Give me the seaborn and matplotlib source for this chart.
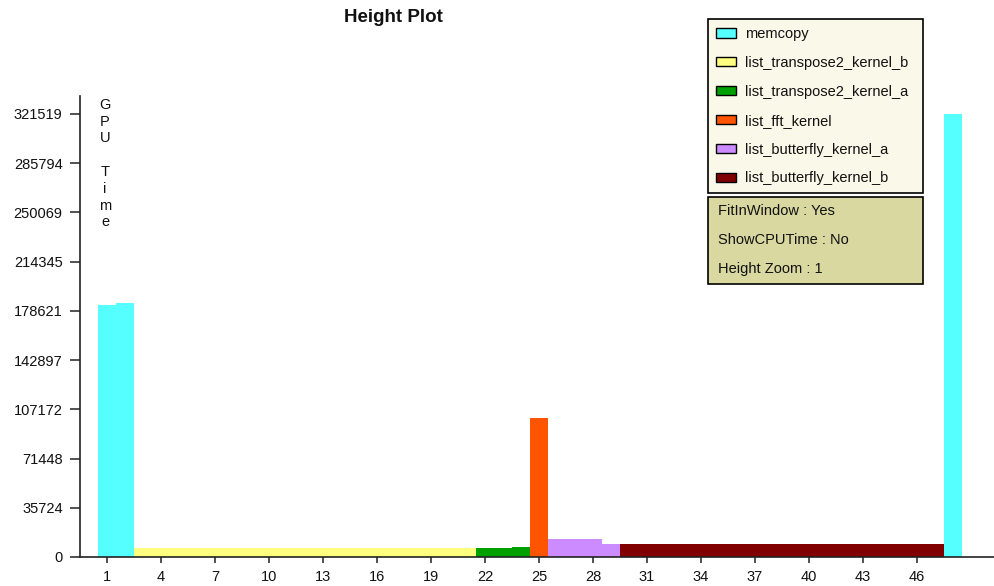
import numpy as np
import pandas as pd
import matplotlib
matplotlib.use("Agg")
import matplotlib.pyplot as plt
from matplotlib.patches import Patch, Rectangle
import seaborn as sns

# Kernel launches in call order: (kernel name, GPU time per call)
kernels = [
    "memcopy",
    "list_transpose2_kernel_b",
    "list_transpose2_kernel_a",
    "list_fft_kernel",
    "list_butterfly_kernel_a",
    "list_butterfly_kernel_b",
]
colors = ["#55FFFF", "#FFFF80", "#00A000", "#FF5500", "#CC8CFF", "#800000"]

memcopy_head = [182700, 184600]
transpose_b = [6300] * 19
transpose_a = [6300, 6300, 7450]
fft = [100700]
butterfly_a = [12850, 12850, 12850, 9200]
butterfly_b = [9200] * 18
memcopy_tail = [321519]

ytick_labels = ["0", "35724", "71448", "107172", "142897", "178621",
                "214345", "250069", "285794", "321519"]
xtick_labels = [str(v) for v in range(1, 47, 3)]

info_lines = ["FitInWindow : Yes", "ShowCPUTime : No", "Height Zoom : 1"]

segments = [
    ("memcopy", memcopy_head),
    ("list_transpose2_kernel_b", transpose_b),
    ("list_transpose2_kernel_a", transpose_a),
    ("list_fft_kernel", fft),
    ("list_butterfly_kernel_a", butterfly_a),
    ("list_butterfly_kernel_b", butterfly_b),
    ("memcopy", memcopy_tail),
]
rows = []
for name, vals in segments:
    for v in vals:
        rows.append((name, v))
df = pd.DataFrame(rows, columns=["kernel", "time"])
df["call"] = np.arange(1, len(df) + 1)

sns.set_theme(style="white")
plt.rcParams["font.family"] = ["Liberation Sans", "DejaVu Sans"]
plt.rcParams["font.size"] = 10.5
plt.rcParams["text.color"] = "#111111"
plt.rcParams["xtick.color"] = "#222222"
plt.rcParams["ytick.color"] = "#222222"
plt.rcParams["xtick.labelcolor"] = "#111111"
plt.rcParams["ytick.labelcolor"] = "#111111"

fig = plt.figure(figsize=(9.95, 5.86), dpi=100)
W, H = 995, 586
ax = fig.add_axes([80 / W, 1 - 557 / H, 915 / W, (557 - 96) / H])

palette = dict(zip(kernels, colors))
sns.barplot(data=df, x="call", y="time", hue="kernel", palette=palette,
            native_scale=True, width=1.0, dodge=False, linewidth=0,
            saturation=1, legend=False, ax=ax)

ax.set_xlim(-0.5, 50.33)
ax.set_ylim(0, 334580)
ax.set_xticks([int(t) for t in xtick_labels])
ax.set_xticklabels(xtick_labels)
ax.set_yticks([int(t) for t in ytick_labels])
ax.set_yticklabels(ytick_labels)
ax.set_xlabel("")
ax.set_ylabel("")
for s in ["top", "right"]:
    ax.spines[s].set_visible(False)
for s in ["left", "bottom"]:
    ax.spines[s].set_color("#222222")
    ax.spines[s].set_linewidth(1.2)
ax.tick_params(axis="y", direction="out", length=7.5, width=1.1,
               pad=5, labelsize=10.5, left=True)
ax.tick_params(axis="x", direction="out", length=4.5, width=1.1,
               pad=5, labelsize=10.5, bottom=True)

# vertical stacked axis caption
fig.text(105 / W, 1 - 98 / H, "G\nP\nU\n\nT\ni\nm\ne", ha="center", va="top",
         multialignment="center", fontsize=10.5, linespacing=1.25)

fig.text(393 / W, 1 - 17 / H, "Height Plot", ha="center", va="center",
         fontsize=13.5, fontweight="bold")

handles = [Patch(facecolor=c, edgecolor="black", linewidth=1.0) for c in colors]
leg = fig.legend(handles, kernels, loc="upper left", mode="expand",
                 bbox_to_anchor=(708 / W, 1 - 193 / H, 215 / W, 174 / H),
                 borderaxespad=0,
                 fontsize=10.5, frameon=True, fancybox=False,
                 handlelength=1.37, handleheight=0.62, handletextpad=0.6,
                 labelspacing=1.02, borderpad=0.55)
frame = leg.get_frame()
frame.set_facecolor("#FAF8E8")
frame.set_edgecolor("black")
frame.set_linewidth(1.2)
frame.set_alpha(1)

box = Rectangle((708 / W, 1 - 284 / H), 215 / W, 87 / H,
                transform=fig.transFigure, facecolor="#D8D8A0",
                edgecolor="black", linewidth=1.2)
fig.add_artist(box)
for i, line in enumerate(info_lines):
    fig.text(718 / W, 1 - (211 + 29 * i) / H, line, ha="left", va="center",
             fontsize=10.5)

fig.savefig("out.png", dpi=100)
